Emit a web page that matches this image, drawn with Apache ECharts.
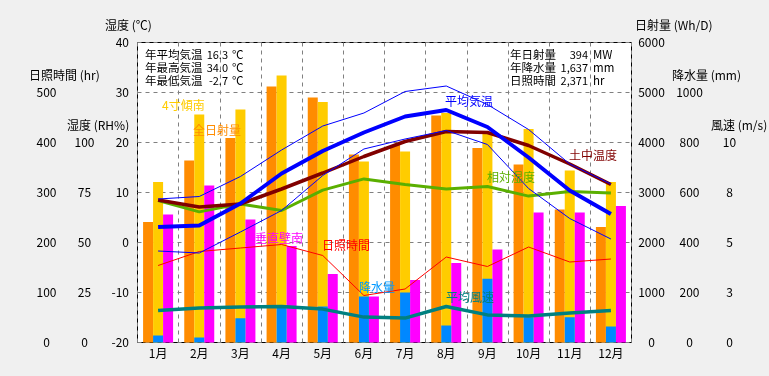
<!DOCTYPE html>
<html>
<head>
<meta charset="utf-8">
<script src="https://cdn.jsdelivr.net/npm/echarts@6/dist/echarts.min.js"></script>
<style>
  html, body { margin: 0; padding: 0; background: #F0F0F0; }
  #chart { width: 769px; height: 376px; }
</style>
</head>
<body>
<div id="chart"></div>
<script>
var months = ['1月', '2月', '3月', '4月', '5月', '6月', '7月', '8月', '9月', '10月', '11月', '12月'];

// 日射量 (Wh/D)
var solarAll = [2410, 3640, 4090, 5120, 4900, 3760, 3950, 4540, 3890, 3560, 2660, 2310];
var solarTilt = [3210, 4560, 4660, 5340, 4810, 3620, 3820, 4590, 4170, 4270, 3440, 3210];
var solarWall = [2560, 3140, 2460, 1930, 1370, 920, 1250, 1590, 1860, 2600, 2600, 2730];
// 降水量 (mm)
var precip = [28, 20, 97, 139, 144, 184, 200, 68, 255, 101, 101, 64];
// 温度 (℃)
var tempAvg = [3.1, 3.4, 7.8, 13.8, 18.3, 22.0, 25.2, 26.5, 23.1, 17.0, 10.4, 5.7];
var tempMax = [8.7, 9.2, 13.2, 18.5, 23.3, 25.9, 30.2, 31.3, 27.6, 22.6, 15.7, 11.7];
var tempMin = [-1.7, -2.1, 2.1, 6.4, 13.4, 18.7, 20.7, 22.4, 19.6, 10.8, 4.8, 0.7];
var soilTemp = [8.5, 7.1, 7.7, 10.7, 13.9, 17.2, 20.2, 22.2, 22.0, 19.4, 15.7, 11.6];
// 湿度 (RH%)
var humidity = [71, 65.3, 69.3, 66, 76.2, 81.8, 79, 76.8, 78, 73.2, 75.5, 74.8];
// 日照時間 (hr)
var sunHours = [154, 182, 189, 196, 174, 94, 107, 171, 152, 191, 161, 167];
// 風速 (m/s)
var windSpeed = [1.6, 1.72, 1.77, 1.8, 1.67, 1.27, 1.22, 1.8, 1.38, 1.32, 1.48, 1.6];

// summary texts
var summaryLeftNames = ['年平均気温', '年最高気温', '年最低気温'];
var summaryLeftValues = ['16.3', '34.0', '-2.7'];
var summaryRightNames = ['年日射量', '年降水量', '日照時間'];
var summaryRightValues = ['394', '1,637', '2,371'];
var summaryRightUnits = ['MW', 'mm', 'hr'];

var FONT = "'Noto Sans CJK JP', sans-serif";

function txt(text, x, y, color, align, size) {
    return {
        type: 'text',
        z: 100,
        style: {
            text: text,
            x: x,
            y: y,
            fill: color || '#000',
            fontSize: size || 12,
            fontFamily: FONT,
            align: align || 'left',
            verticalAlign: 'middle'
        }
    };
}

function valueAxis(pos, offset, min, max, interval, limit, align, margin, round) {
    return {
        type: 'value',
        position: pos,
        offset: offset,
        min: min,
        max: max,
        interval: interval,
        axisLine: { show: false },
        axisTick: { show: false },
        splitLine: { show: false },
        axisLabel: {
            color: '#000',
            fontSize: 12,
            fontFamily: FONT,
            align: align,
            margin: margin,
            formatter: function (v) {
                if (v > limit) return '';
                return round ? String(Math.round(v)) : String(v);
            }
        }
    };
}

var graphics = [];
// axis names
graphics.push(txt('湿度 (℃)', 105, 25));
graphics.push(txt('日照時間 (hr)', 29, 75));
graphics.push(txt('湿度 (RH%)', 67, 125));
graphics.push(txt('日射量 (Wh/D)', 635, 25));
graphics.push(txt('降水量 (mm)', 672, 75));
graphics.push(txt('風速 (m/s)', 711, 125));
// summary
for (var i = 0; i < 3; i++) {
    var yy = 55 + i * 12.7;
    graphics.push(txt(summaryLeftNames[i], 145, yy, '#000', 'left', 11.5));
    graphics.push(txt(summaryLeftValues[i], 228, yy, '#000', 'right', 11));
    graphics.push(txt('℃', 232, yy, '#000', 'left', 11.5));
    graphics.push(txt(summaryRightNames[i], 510, yy, '#000', 'left', 11.5));
    graphics.push(txt(summaryRightValues[i], 588, yy, '#000', 'right', 11));
    graphics.push(txt(summaryRightUnits[i], 593, yy, '#000', 'left', 11.5));
}
// series labels
graphics.push(txt('4寸傾南', 162, 105, '#FFCC00'));
graphics.push(txt('全日射量', 193, 130, '#FF8C00'));
graphics.push(txt('垂直壁南', 255, 238, '#FF00FF'));
graphics.push(txt('日照時間', 322, 245, '#FF0000'));
graphics.push(txt('降水量', 359, 287, '#0099FF'));
graphics.push(txt('平均風速', 446, 297, '#008080'));
graphics.push(txt('相対湿度', 487, 177, '#5AAF00'));
graphics.push(txt('土中温度', 569, 155, '#800000'));
graphics.push(txt('平均気温', 445, 101, '#0000FF'));

var chart = echarts.init(document.getElementById('chart'));

var option = {
    backgroundColor: '#F0F0F0',
    animation: false,
    grid: {
        left: 137.5,
        top: 42.5,
        width: 494,
        height: 300,
        show: true,
        backgroundColor: '#fff',
        borderColor: '#000',
        borderWidth: 1,
        containLabel: false,
        outerBoundsMode: 'none'
    },
    xAxis: [
        {
            type: 'category',
            data: months,
            boundaryGap: true,
            axisLine: { show: false },
            axisTick: { show: false },
            axisLabel: { color: '#000', fontSize: 12, fontFamily: FONT, margin: 5, interval: 0 },
            splitLine: { show: true, interval: 0, lineStyle: { color: '#808080', type: [4, 4], width: 1 } }
        },
        {
            type: 'category',
            data: months,
            show: false
        }
    ],
    yAxis: [
        // 0: 温度
        {
            type: 'value',
            position: 'left',
            min: -20,
            max: 40,
            interval: 10,
            axisLine: { show: false },
            axisTick: { show: false },
            axisLabel: { color: '#000', fontSize: 12, fontFamily: FONT, margin: 8.5 },
            splitLine: { show: true, lineStyle: { color: '#808080', type: [4, 4], width: 1 } }
        },
        valueAxis('left', 91, 0, 600, 100, 500, 'center', 0, false),     // 1: 日照時間
        valueAxis('left', 53, 0, 150, 25, 100, 'center', 0, false),      // 2: 湿度
        valueAxis('right', 20, 0, 6000, 1000, 6000, 'center', 0, false), // 3: 日射量
        valueAxis('right', 58, 0, 1200, 200, 1000, 'center', 0, false),  // 4: 降水量
        valueAxis('right', 98, 0, 15, 2.5, 10, 'center', 0, true)        // 5: 風速
    ],
    graphic: graphics,
    series: [
        { name: '全日射量', type: 'bar', xAxisIndex: 0, yAxisIndex: 3, data: solarAll, barWidth: 10, barGap: '0%', itemStyle: { color: '#FF8C00' } },
        { name: '4寸傾南', type: 'bar', xAxisIndex: 0, yAxisIndex: 3, data: solarTilt, barWidth: 10, barGap: '0%', itemStyle: { color: '#FFCC00' } },
        { name: '垂直壁南', type: 'bar', xAxisIndex: 0, yAxisIndex: 3, data: solarWall, barWidth: 10, barGap: '0%', itemStyle: { color: '#FF00FF' } },
        { name: '降水量', type: 'bar', xAxisIndex: 1, yAxisIndex: 4, data: precip, barWidth: 10, itemStyle: { color: '#0088FF' } },
        { name: '日照時間', type: 'line', yAxisIndex: 1, data: sunHours, symbol: 'none', lineStyle: { color: '#FF0000', width: 1 } },
        { name: '平均風速', type: 'line', yAxisIndex: 5, data: windSpeed, symbol: 'none', lineStyle: { color: '#008080', width: 3.5 } },
        { name: '相対湿度', type: 'line', yAxisIndex: 2, data: humidity, symbol: 'none', lineStyle: { color: '#5AAF00', width: 3 } },
        { name: '土中温度', type: 'line', yAxisIndex: 0, data: soilTemp, symbol: 'none', lineStyle: { color: '#800000', width: 3.5 } },
        { name: '最高気温', type: 'line', yAxisIndex: 0, data: tempMax, symbol: 'none', lineStyle: { color: '#0000FF', width: 1 } },
        { name: '最低気温', type: 'line', yAxisIndex: 0, data: tempMin, symbol: 'none', lineStyle: { color: '#0000FF', width: 1 } },
        { name: '平均気温', type: 'line', yAxisIndex: 0, data: tempAvg, symbol: 'none', lineStyle: { color: '#0000FF', width: 4 } }
    ]
};

chart.setOption(option);
</script>
</body>
</html>
